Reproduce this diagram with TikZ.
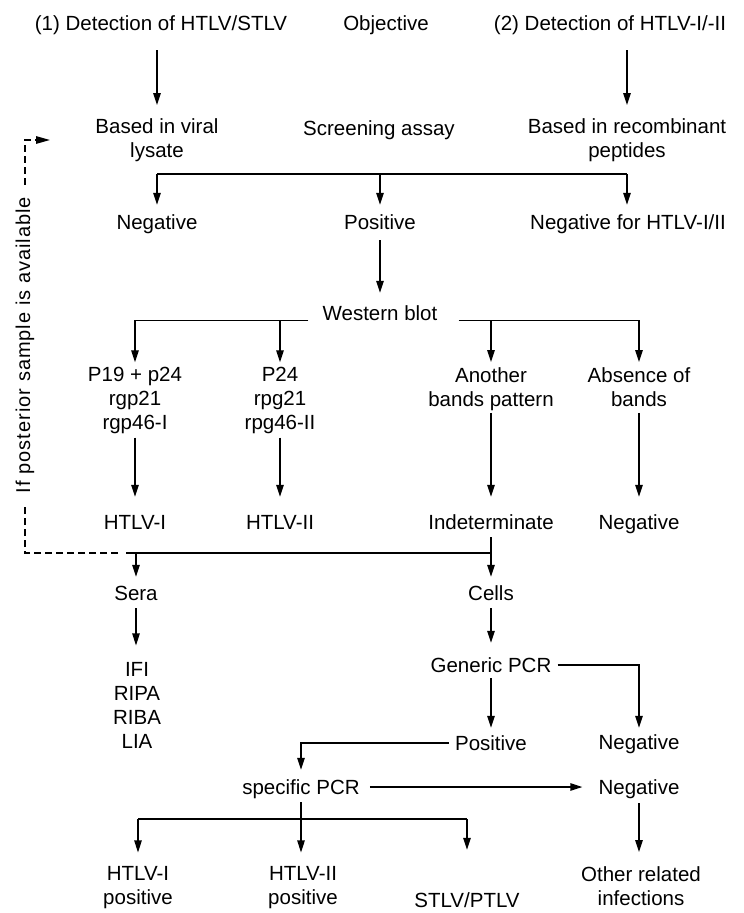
\documentclass[tikz,border=0pt]{standalone}
\usepackage{fontspec}
\setmainfont{Liberation Sans}
\usetikzlibrary{arrows.meta}
\newcommand\sst{\rule[-4.7pt]{0pt}{24pt}}
\begin{document}
\begin{tikzpicture}[x=1pt,y=-1pt,
  lbl/.style={inner sep=0pt, align=center, font=\fontsize{20.5}{24}\selectfont, execute at begin node=\sst},
  rot/.style={rotate=90, inner xsep=12pt, inner ysep=0pt, font=\fontsize{20}{24}\selectfont\addfontfeature{LetterSpace=5}},
  arr/.style={-{Triangle[length=12pt,width=7.5pt]}, line width=1.3pt},
  ln/.style={line width=1.3pt},
  dsh/.style={line width=1.3pt, dash pattern=on 7pt off 4pt}]
\useasboundingbox (0,0) rectangle (744,913);
% nodes
\node[lbl] (det1) at (161,23) {(1) Detection of HTLV/STLV};
\node[lbl] (obj) at (386,23) {Objective};
\node[lbl] (det2) at (610,23) {(2) Detection of HTLV-I/-II};
\node[lbl] (lys) at (157,140) {Based in viral\\lysate\sst};
\node[lbl] (scr) at (379,128) {Screening assay};
\node[lbl] (rec) at (627,140) {Based in recombinant\\peptides\sst};
\node[lbl] (neg1) at (157,222) {Negative};
\node[lbl] (pos1) at (380,222) {Positive};
\node[lbl] (negHT) at (628,222) {Negative for HTLV-I/II};
\node[lbl] (wb) at (380,313) {Western blot};
\node[lbl] (p19) at (135,401) {P19 + p24\\rgp21\sst\\rgp46-I\sst};
\node[lbl] (p24) at (280,401) {P24\\rpg21\sst\\rpg46-II\sst};
\node[lbl] (anot) at (491,389) {Another\\bands pattern\sst};
\node[lbl] (abs) at (639,389) {Absence of\\bands\sst};
\node[lbl] (h1) at (135,522) {HTLV-I};
\node[lbl] (h2) at (280,522) {HTLV-II};
\node[lbl] (ind) at (491,522) {Indeterminate};
\node[lbl] (neg2) at (639,522) {Negative};
\node[lbl] (sera) at (136,593) {Sera};
\node[lbl] (cells) at (491,593) {Cells};
\node[lbl] (ifi) at (137,708) {IFI\\RIPA\sst\\RIBA\sst\\LIA\sst};
\node[lbl] (gpcr) at (491,665) {Generic PCR};
\node[lbl] (pos2) at (491,743) {Positive};
\node[lbl] (neg3) at (639,742) {Negative};
\node[lbl] (spcr) at (301,787) {specific PCR};
\node[lbl] (neg4) at (639,787) {Negative};
\node[lbl] (h1p) at (138,888) {HTLV-I\\positive\sst};
\node[lbl] (h2p) at (303,888) {HTLV-II\\positive\sst};
\node[lbl] (stlv) at (467,900) {STLV/PTLV};
\node[lbl] (oth) at (641,888) {Other related\\infections\sst};
\node[rot] (post) at (25,345) {If posterior sample is available};
% connectors
\draw[arr, shorten <=15pt, shorten >=13pt] (det1.south -| lys) -- (lys.north);
\draw[arr, shorten <=15pt, shorten >=13pt] (det2.south -| rec) -- (rec.north);
\coordinate (j1) at (380,174);
\draw[ln] (j1 -| lys) -- (j1 -| rec);
\draw[arr, shorten >=5pt] (j1 -| lys) -- (neg1.north);
\draw[arr, shorten >=5pt] (j1) -- (pos1.north);
\draw[arr, shorten >=5pt] (j1 -| rec) -- (negHT.north -| rec);
\draw[arr, shorten <=6pt, shorten >=8pt] (pos1.south) -- (wb.north);
\draw[arr, shorten >=5pt] ([xshift=-14pt]wb.base west) -| (p19.north);
\draw[arr, shorten >=5pt] (wb.base -| p24) -- (p24.north);
\draw[arr, shorten >=5pt] ([xshift=21pt]wb.base east) -| (abs.north);
\draw[arr, shorten >=5pt] (wb.base -| anot) -- (anot.north);
\draw[arr, shorten <=3pt, shorten >=13pt] (p19.south) -- (h1.north);
\draw[arr, shorten <=3pt, shorten >=13pt] (p24.south) -- (h2.north);
\draw[arr, shorten <=2pt, shorten >=13pt] (anot.south) -- (ind.north);
\draw[arr, shorten <=2pt, shorten >=13pt] (abs.south) -- (neg2.north);
\coordinate (j2) at (491,553);
\coordinate (j2L) at (126,553);
\draw[ln, shorten <=3pt] (ind.south) -- (j2);
\draw[ln] (j2) -- (j2L);
\draw[arr, shorten >=4pt] (j2 -| sera) -- (sera.north);
\draw[arr, shorten >=4pt] (j2) -- (cells.north);
\coordinate (dA) at (118,553);
\coordinate (dC) at (25,140);
\coordinate (dD) at (50,140);
\draw[dsh] (dA) -- (dA -| post) -- (post.west);
\draw[dsh, -{Triangle[length=14pt,width=7.5pt]}] (post.east) -- (dC) -- (dD);
\draw[arr, shorten <=3pt, shorten >=17pt] (sera.south) -- (sera.south |- ifi.north);
\draw[arr, shorten <=3pt, shorten >=10pt] (cells.south) -- (gpcr.north);
\draw[arr, shorten <=6pt, shorten >=2pt] (gpcr.east) -| (neg3.north);
\draw[arr, shorten <=1pt, shorten >=3pt] (gpcr.south) -- (pos2.north);
\draw[arr, shorten <=6pt, shorten >=5pt] (pos2.west) -| (spcr.north);
\draw[arr, shorten <=10pt, shorten >=16pt] (spcr.east) -- (neg4.west);
\coordinate (j3) at (301,819);
\draw[ln, shorten <=3pt] (spcr.south) -- (j3);
\draw[ln] (j3 -| h1p) -- (j3 -| stlv);
\draw[arr, shorten >=14pt] (j3 -| h1p) -- (h1p.north);
\draw[arr, shorten >=14pt] (j3) -- (j3 |- h2p.north);
\draw[arr, shorten >=38pt] (j3 -| stlv) -- (stlv.north);
\draw[arr, shorten <=4pt, shorten >=14pt] (neg4.south) -- (neg4.south |- oth.north);
\end{tikzpicture}
\end{document}
